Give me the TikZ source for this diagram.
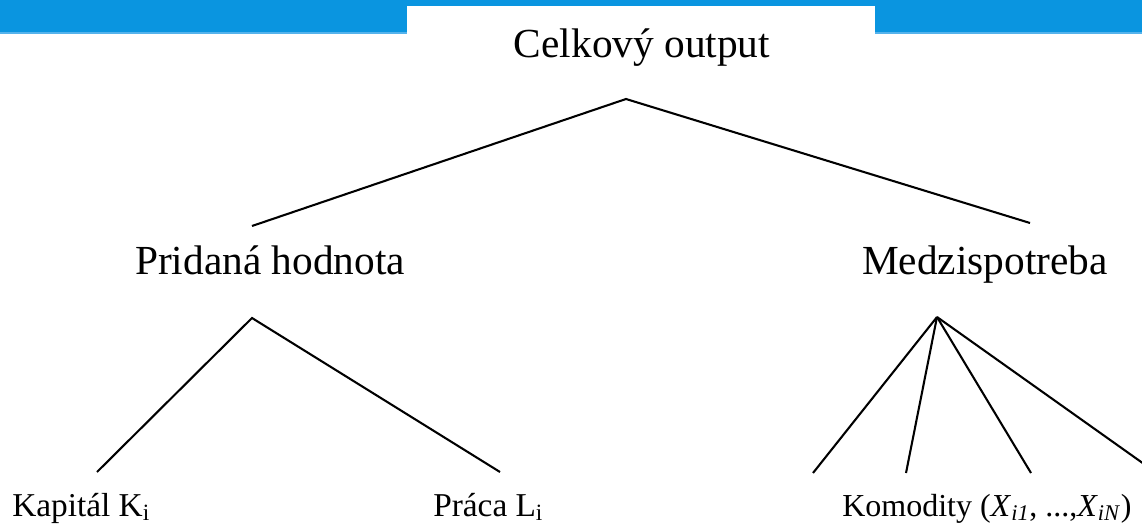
\documentclass[tikz,border=0pt]{standalone}
\usepackage{fontspec}
\setmainfont{Liberation Serif}
\definecolor{barblue}{HTML}{0A95E0}
\definecolor{barline}{HTML}{55B3EC}
\begin{document}
\begin{tikzpicture}[x=0.75pt,y=-0.75pt,
  conn/.style={line width=1.55pt},
  big/.style={font=\fontsize{31}{37}\selectfont, anchor=base, inner sep=0pt},
  small/.style={font=\fontsize{25}{30}\selectfont, anchor=base west, inner sep=0pt}]
\useasboundingbox (0,0) rectangle (1142,524);
% header bar
\fill[barblue] (0,0) rectangle (1142,33);
\fill[barline] (0,32.5) rectangle (1142,34);
\fill[white] (407,6) rectangle (875,34);
% texts
\node[big] (celk) at (642,58) {Celkový output};
\node[big] (prid) at (270,274) {Pridaná hodnota};
\node[big] (medz) at (985,274) {Medzispotreba};
\node[small] (kap) at (12,516) {Kapitál K\textsubscript{i}};
\node[small] (pra) at (433,516) {Práca L\textsubscript{i}};
\node[small, font=\fontsize{24}{29}\selectfont] (kom) at (842,516) {Komodity (\textit{X}\textsubscript{\textit{i1}}, ...,\textit{X}\textsubscript{\textit{iN}})};
% line ends
\coordinate (t0) at (626,99);
\coordinate (t1) at (252,226);
\coordinate (t2) at (1030,223);
\coordinate (p0) at (252,318);
\coordinate (p1) at (97,472);
\coordinate (p2) at (500,472);
\coordinate (m0) at (937,317);
\coordinate (m1) at (813,473);
\coordinate (m2) at (906,473);
\coordinate (m3) at (1031,473);
\coordinate (m4) at (1144,464);
% connectors
\draw[conn] (t1) -- (t0) -- (t2);
\draw[conn] (p1) -- (p0) -- (p2);
\draw[conn] (m0) -- (m1);
\draw[conn] (m0) -- (m2);
\draw[conn] (m0) -- (m3);
\draw[conn] (m0) -- (m4);
\end{tikzpicture}
\end{document}
